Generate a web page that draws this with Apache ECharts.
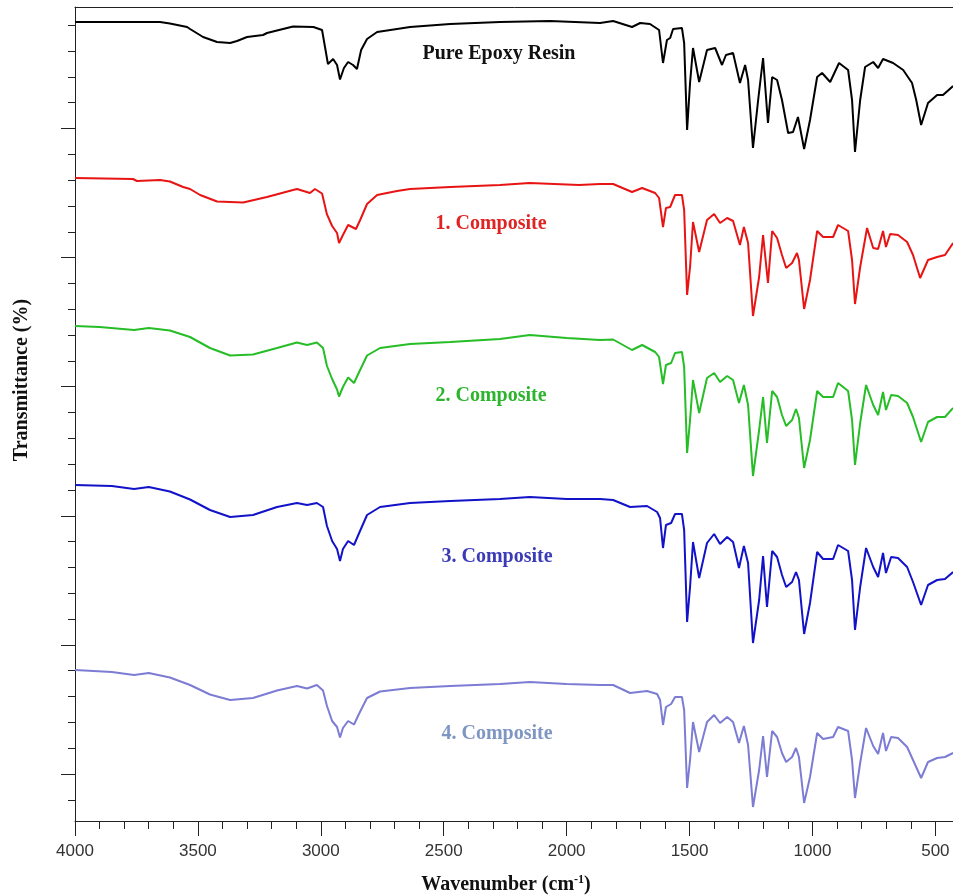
<!DOCTYPE html>
<html>
<head>
<meta charset="utf-8">
<title>FTIR spectra</title>
<script src="https://cdn.jsdelivr.net/npm/echarts@6/dist/echarts.min.js"></script>
<style>
  html, body { margin: 0; padding: 0; background: #fff; }
  #chart { width: 953px; height: 896px; }
</style>
</head>
<body>
<div id="chart"></div>
<script>
// wavenumber (cm-1) / offset transmittance
var pureEpoxy = [
  [4000, 799], [3654, 799], [3614, 797.5], [3544, 794], [3532, 792], [3479, 784], [3422, 779], [3369, 778],
  [3341, 780], [3300, 784], [3235, 786], [3219, 788], [3113, 794.5], [3030, 794], [2995, 791], [2983, 774],
  [2971, 757], [2950, 762], [2934, 756], [2922, 741.5], [2906, 753], [2889, 759], [2869, 756], [2853, 752],
  [2836, 771], [2812, 782], [2771, 789], [2690, 792], [2637, 794], [2474, 797], [2271, 799], [2068, 800],
  [1864, 798], [1811, 800], [1734, 794], [1701, 798], [1661, 797], [1624, 791], [1608, 758], [1592, 781],
  [1579, 783], [1567, 792], [1531, 793], [1522, 778], [1510, 691], [1498, 738], [1486, 773], [1461, 739],
  [1429, 771], [1396, 773], [1368, 756], [1352, 766], [1323, 768], [1295, 738], [1274, 756], [1262, 741],
  [1242, 673], [1221, 721], [1201, 763], [1181, 698], [1164, 744], [1144, 741], [1124, 721], [1099, 688],
  [1079, 689], [1059, 704], [1034, 672], [1010, 701], [981, 744], [961, 748], [928, 739], [892, 758],
  [855, 751], [839, 721], [827, 669], [806, 721], [786, 754], [753, 759], [733, 753], [713, 762],
  [672, 758], [631, 751], [595, 738], [578, 721], [558, 696], [530, 718], [493, 726], [469, 726], [428, 735]
];

var composite1 = [
  [4000, 643], [3764, 642], [3748, 640], [3654, 641], [3614, 639.5], [3560, 634], [3532, 632], [3491, 626],
  [3422, 619.5], [3316, 618.5], [3219, 624], [3113, 631], [3097, 632], [3044, 628], [3024, 632], [2995, 627.5],
  [2975, 606.6], [2954, 595], [2934, 588], [2926, 578], [2910, 586], [2889, 596], [2869, 593.5], [2857, 592],
  [2840, 601], [2812, 617], [2771, 626], [2690, 630], [2637, 632], [2474, 634], [2271, 636], [2150, 638],
  [1950, 636], [1864, 637], [1811, 637], [1734, 629], [1693, 633], [1640, 628], [1624, 623], [1608, 594],
  [1596, 613], [1579, 614], [1559, 626], [1531, 626], [1522, 611], [1510, 526], [1498, 554], [1486, 599],
  [1461, 569], [1429, 601], [1400, 607], [1376, 598], [1347, 603], [1323, 600], [1295, 576], [1279, 594],
  [1262, 578], [1242, 505], [1217, 544], [1201, 586], [1181, 538], [1164, 590], [1144, 583], [1124, 566],
  [1107, 553], [1083, 558], [1063, 568], [1055, 561], [1034, 512], [1010, 541], [981, 590], [957, 584],
  [916, 584], [896, 596], [855, 590], [839, 561], [827, 517], [806, 554], [778, 593], [753, 573],
  [733, 572], [713, 590], [701, 574], [684, 587], [652, 586], [615, 579], [591, 566], [562, 543],
  [530, 561], [493, 564], [461, 566], [428, 578]
];

var composite2 = [
  [4000, 495], [3900, 494], [3760, 491], [3700, 493], [3614, 490.5], [3532, 484], [3451, 473], [3369, 465.5],
  [3276, 466.5], [3178, 473], [3097, 478.5], [3056, 476], [3016, 478.5], [2991, 473], [2975, 455], [2954, 442],
  [2934, 431.5], [2926, 424.5], [2910, 434], [2889, 443.5], [2865, 438], [2845, 448.5], [2812, 465.5], [2759, 473],
  [2637, 477], [2474, 479], [2271, 482], [2150, 486], [2000, 483], [1864, 481], [1811, 481.5], [1734, 471],
  [1693, 476], [1640, 469], [1624, 464], [1608, 437], [1596, 456], [1575, 458], [1559, 468], [1531, 469],
  [1522, 454], [1510, 368], [1498, 401], [1486, 441], [1461, 408], [1429, 443], [1400, 448], [1376, 439],
  [1347, 445], [1323, 441], [1299, 418], [1279, 436], [1262, 416], [1242, 345], [1217, 391], [1201, 424],
  [1185, 378], [1164, 430], [1144, 424], [1124, 406], [1107, 395], [1083, 401], [1067, 412], [1055, 403],
  [1034, 353], [1010, 381], [981, 430], [957, 424], [916, 424], [896, 438], [855, 430], [839, 401],
  [827, 356], [806, 398], [782, 436], [753, 416], [733, 406], [713, 429], [701, 411], [680, 426],
  [652, 425], [615, 418], [591, 404], [558, 379], [530, 399], [493, 404], [461, 404], [428, 413]
];

var composite3 = [
  [4000, 336], [3850, 335], [3760, 332], [3700, 334], [3614, 329.5], [3532, 321.5], [3451, 311], [3369, 304],
  [3276, 306], [3178, 314], [3097, 318], [3056, 316], [3016, 318], [2991, 314], [2975, 295], [2954, 280],
  [2934, 272], [2922, 260], [2910, 272], [2889, 280], [2865, 276], [2845, 287.5], [2812, 306], [2759, 314],
  [2637, 318], [2474, 320], [2271, 322], [2150, 324], [2000, 322], [1864, 322], [1811, 321], [1742, 314],
  [1673, 315], [1632, 309], [1620, 303], [1608, 273], [1596, 296], [1575, 298], [1559, 307], [1531, 307],
  [1522, 291], [1510, 199], [1498, 234], [1486, 279], [1461, 243], [1429, 278], [1400, 287], [1376, 277],
  [1347, 284], [1323, 279], [1299, 253], [1279, 275], [1262, 258], [1242, 178], [1217, 221], [1201, 265],
  [1185, 214], [1164, 270], [1144, 264], [1124, 246], [1107, 234], [1083, 239], [1067, 249], [1055, 241],
  [1034, 187], [1010, 218], [981, 269], [957, 262], [916, 262], [896, 276], [855, 270], [839, 241],
  [827, 191], [806, 234], [782, 273], [753, 254], [733, 244], [713, 268], [701, 248], [680, 264],
  [652, 263], [615, 254], [591, 239], [558, 216], [530, 236], [493, 241], [461, 242], [428, 249]
];

var composite4 = [
  [4000, 151], [3850, 149], [3760, 146], [3700, 148], [3614, 143.5], [3532, 136], [3451, 126.5], [3369, 121],
  [3276, 123], [3178, 130.5], [3097, 135], [3056, 132.5], [3016, 136], [2991, 130.5], [2975, 115], [2954, 100],
  [2934, 94], [2922, 83.5], [2910, 93], [2889, 100], [2865, 96.5], [2845, 107], [2812, 123], [2759, 129.5],
  [2637, 133], [2474, 135], [2271, 137], [2150, 139], [2000, 137], [1864, 136], [1811, 136], [1742, 128],
  [1673, 130], [1632, 127], [1620, 121], [1608, 96], [1596, 114], [1575, 117], [1559, 124], [1531, 124],
  [1522, 111], [1510, 33], [1498, 61], [1486, 99], [1461, 69], [1429, 99], [1400, 106], [1376, 98],
  [1347, 104], [1323, 99], [1299, 78], [1279, 95], [1262, 76], [1242, 14], [1217, 51], [1201, 85],
  [1185, 44], [1164, 90], [1144, 84], [1124, 68], [1107, 59], [1083, 64], [1067, 73], [1055, 64],
  [1034, 18], [1010, 44], [981, 88], [957, 82], [916, 84], [896, 94], [855, 90], [839, 61],
  [827, 23], [806, 58], [782, 93], [753, 75], [733, 67], [713, 88], [701, 70], [680, 84],
  [652, 83], [615, 74], [591, 61], [558, 43], [530, 59], [493, 63], [461, 64], [428, 68]
];

var seriesNames = ['Pure Epoxy Resin', '1. Composite', '2. Composite', '3. Composite', '4. Composite'];
var lineColors = ['#000000', '#e81414', '#26bd26', '#1212c8', '#7c7cd4'];
var labelColors = ['#111111', '#e02424', '#2cb42c', '#3b3bb8', '#7f96c2'];
var labelPos = [[499, 54], [491, 224], [491, 396], [497, 557], [497, 734]];
var spectra = [pureEpoxy, composite1, composite2, composite3, composite4];

var axisColor = '#222';
var titleFont = 'bold 20px "Liberation Serif"';
var myChart = echarts.init(document.getElementById('chart'));

var each = function (arr, fn) { for (var i = 0; i < arr.length; i++) fn(i, arr[i]); };

var seriesArray = [];
each(spectra, function (i, data) {
  seriesArray.push({
    name: seriesNames[i],
    type: 'line',
    xAxisIndex: 0,
    yAxisIndex: 0,
    showSymbol: false,
    symbol: 'none',
    animation: false,
    lineStyle: { color: lineColors[i], width: 2 },
    data: data
  });
});

var labels = [];
each(seriesNames, function (i, name) {
  labels.push({
    type: 'text',
    x: labelPos[i][0],
    y: labelPos[i][1],
    style: {
      text: name,
      font: titleFont,
      fill: labelColors[i],
      align: 'center',
      verticalAlign: 'middle'
    }
  });
});

labels.push({
  type: 'text',
  x: 22,
  y: 380,
  rotation: Math.PI / 2,
  style: {
    text: 'Transmittance (%)',
    font: titleFont,
    fill: '#111',
    align: 'center',
    verticalAlign: 'middle'
  }
});

labels.push({
  type: 'text',
  x: 506,
  y: 885,
  style: {
    text: '{a|Wavenumber (cm}{s|-1}{a|)}',
    fill: '#111',
    align: 'center',
    verticalAlign: 'middle',
    rich: {
      a: { font: titleFont, fill: '#111', lineHeight: 22 },
      s: { font: 'bold 12px "Liberation Serif"', fill: '#111', lineHeight: 22, padding: [0, 0, 10, 0] }
    }
  }
});

// 0 cm-1 sits past the right edge so 953 px lands near 428 cm-1
var option = {
  backgroundColor: '#fff',
  animation: false,
  grid: [
    { left: 75, width: 983.3, top: 7, bottom: 75, outerBoundsMode: 'none', containLabel: false },
    { left: 75, right: 0, top: 128.5, bottom: 122, outerBoundsMode: 'none' },
    { left: 75, right: 0, top: 25.2, bottom: 96.2, outerBoundsMode: 'none' }
  ],
  xAxis: [
    {
      gridIndex: 0, type: 'value', inverse: true, min: 0, max: 4000, interval: 500,
      axisLine: { show: true, onZero: false, lineStyle: { color: axisColor, width: 1 } },
      axisTick: { show: true, length: 15, lineStyle: { color: axisColor, width: 1 } },
      minorTick: { show: true, splitNumber: 5, length: 8, lineStyle: { color: axisColor, width: 1 } },
      axisLabel: {
        margin: 22, fontSize: 17, fontFamily: '"Liberation Sans"', color: '#333',
        formatter: function (v) { return v >= 500 ? String(v) : ''; }
      },
      splitLine: { show: false }
    },
    {
      gridIndex: 0, type: 'value', inverse: true, position: 'top', min: 0, max: 4000,
      axisLine: { show: true, onZero: false, lineStyle: { color: axisColor, width: 1 } },
      axisTick: { show: false }, axisLabel: { show: false }, splitLine: { show: false }
    },
    { gridIndex: 1, type: 'value', min: 0, max: 1, show: false },
    { gridIndex: 2, type: 'value', min: 0, max: 1, show: false }
  ],
  yAxis: [
    {
      gridIndex: 0, type: 'value', min: 0, max: 814,
      axisLine: { show: true, onZero: false, lineStyle: { color: axisColor, width: 1 } },
      axisTick: { show: false }, axisLabel: { show: false }, splitLine: { show: false }
    },
    {
      gridIndex: 1, type: 'value', min: 0, max: 5, interval: 1,
      axisLine: { show: false, onZero: false },
      axisTick: { show: true, length: 14, lineStyle: { color: axisColor, width: 1 } },
      axisLabel: { show: false }, splitLine: { show: false }
    },
    {
      gridIndex: 2, type: 'value', min: 0, max: 30, interval: 1,
      axisLine: { show: false, onZero: false },
      axisTick: { show: true, length: 7, lineStyle: { color: axisColor, width: 1 } },
      axisLabel: { show: false }, splitLine: { show: false }
    }
  ],
  graphic: labels,
  series: seriesArray
};

myChart.setOption(option);
</script>
</body>
</html>
